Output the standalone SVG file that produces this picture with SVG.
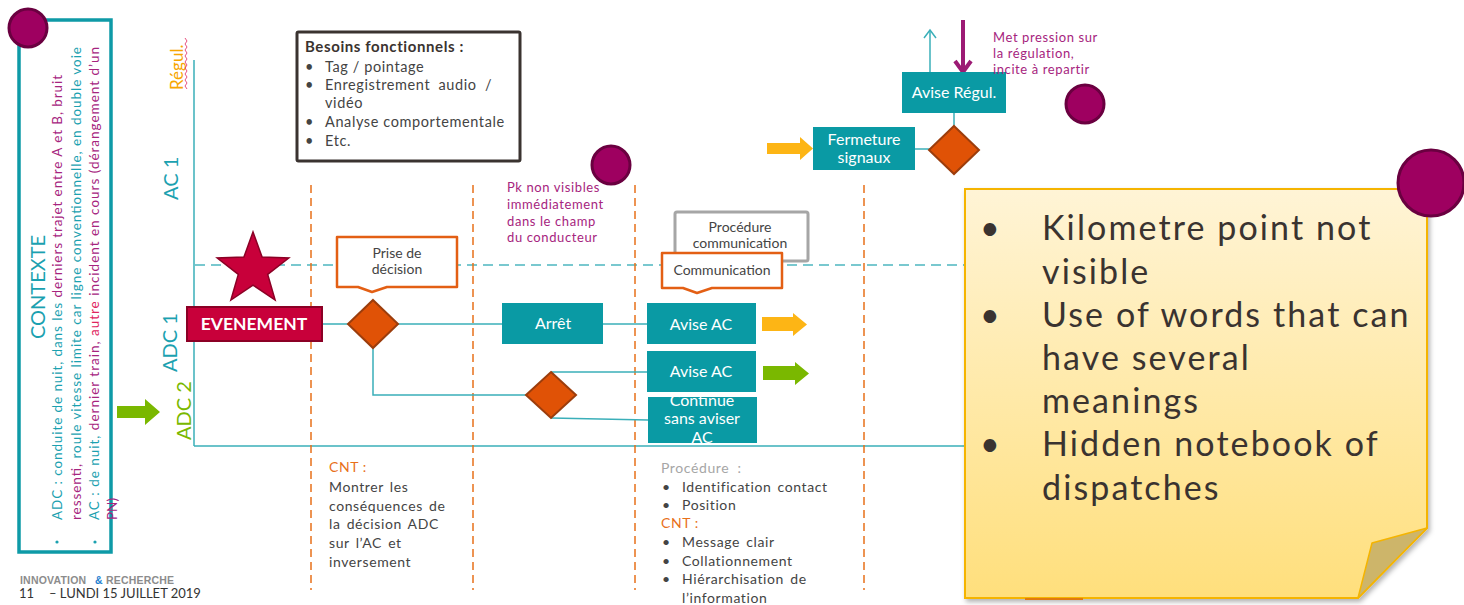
<svg xmlns="http://www.w3.org/2000/svg" width="1464" height="605" viewBox="0 0 1464 605">
<defs>
<style>
text{font-family:"Lato","Liberation Sans",sans-serif}
.tl{fill:none;stroke:#3aafb9;stroke-width:1.5}
.od{fill:none;stroke:#e8701a;stroke-width:1.5;stroke-dasharray:8 5}
.box{fill:#0a9aa4}
.wt{fill:#fff;font-size:16px;text-anchor:middle}
.dia{fill:#e05206;stroke:#9c3d0c;stroke-width:2}
.call{fill:#fff;stroke:#e35f14;stroke-width:2.5;stroke-linejoin:round}
.ct{fill:#444;font-size:14px;text-anchor:middle}
.pc{fill:#9e0060;stroke:#6a0040;stroke-width:3}
.bt{fill:#444;font-size:14px;letter-spacing:0.6px;word-spacing:2px}
.bb{fill:#444;font-size:14.5px;letter-spacing:0.6px}
.mg{fill:#a6247e}
.tq{fill:#1ba1b0}
.pk{fill:#a6247e;font-size:13px;letter-spacing:0.6px}
.sn{fill:#3a3330;font-size:34px;letter-spacing:2.1px}
</style>
<linearGradient id="noteg" x1="0" y1="0" x2="0" y2="1">
<stop offset="0" stop-color="#fff4d6"/>
<stop offset="1" stop-color="#ffdf7c"/>
</linearGradient>
<filter id="sh" x="-5%" y="-5%" width="112%" height="112%">
<feDropShadow dx="2" dy="3" stdDeviation="2.5" flood-color="#000" flood-opacity="0.3"/>
</filter>
<marker id="openHead" markerWidth="12" markerHeight="14" refX="9" refY="7" orient="auto" markerUnits="userSpaceOnUse">
<path d="M1,1 L9,7 L1,13" fill="none" stroke="#3aafb9" stroke-width="1.5"/>
</marker>
</defs>
<rect width="1464" height="605" fill="#fff"/>

<!-- Context box -->
<g id="contexte">
<rect x="19" y="20" width="92" height="532" fill="#fff" stroke="#0e9aa7" stroke-width="3.5"/>
<text transform="translate(45,287) rotate(-90)" text-anchor="middle" font-size="20" fill="#1ba1b0">CONTEXTE</text>
<circle cx="57" cy="542" r="1.6" fill="#1ba1b0"/>
<circle cx="95" cy="542" r="1.6" fill="#1ba1b0"/>
<text transform="translate(62,520) rotate(-90)" font-size="13.5" textLength="445" lengthAdjust="spacing"><tspan class="tq">ADC : conduite de nuit, dans les </tspan><tspan class="mg">derniers trajet entre A et B, bruit</tspan></text>
<text transform="translate(81,520) rotate(-90)" font-size="13.5" textLength="473" lengthAdjust="spacing"><tspan class="mg">ressenti,</tspan><tspan class="tq"> roule vitesse limite car ligne conventionnelle,  en double voie</tspan></text>
<text transform="translate(99,520) rotate(-90)" font-size="13.5" textLength="473" lengthAdjust="spacing"><tspan class="tq">AC : de nuit, </tspan><tspan class="mg">dernier train,</tspan><tspan fill="#e0245e"> autre</tspan><tspan class="mg"> incident  en cours (dérangement  d’un</tspan></text>
<text transform="translate(117,520) rotate(-90)" font-size="13.5" class="mg">PN)</text>
<circle cx="28" cy="28" r="19" class="pc"/>
</g>

<!-- Green input arrow -->
<g id="arrow-left">
<polygon points="117,406 145,406 145,399 160,412 145,425 145,418 117,418" fill="#7ab800"/>
</g>

<!-- Lane labels -->
<g id="lanes">
<text transform="translate(183,90) rotate(-90)" font-size="17" fill="#f7a600">Régul.</text>
<polyline points="185,38 187,41 185,44 187,47 185,50 187,53 185,56 187,59 185,62 187,65 185,68 187,71 185,74 187,77 185,80 187,83 185,86 187,89" fill="none" stroke="#e0245e" stroke-width="0.8"/>
<text transform="translate(178,200) rotate(-90)" font-size="20" fill="#1ba1b0">AC 1</text>
<text transform="translate(177,372) rotate(-90)" font-size="20" fill="#1ba1b0">ADC 1</text>
<text transform="translate(191,440) rotate(-90)" font-size="20" fill="#7ab800">ADC 2</text>
</g>

<!-- Axes / swimlane lines -->
<g id="grid">
<line x1="194" y1="60" x2="194" y2="446" class="tl"/>
<line x1="194" y1="446" x2="970" y2="446" class="tl"/>
<line x1="195" y1="265" x2="970" y2="265" stroke="#4db6c0" stroke-width="1.5" stroke-dasharray="10 6"/>
<line x1="311" y1="185" x2="311" y2="590" class="od"/>
<line x1="473" y1="185" x2="473" y2="590" class="od"/>
<line x1="635" y1="185" x2="635" y2="590" class="od"/>
<line x1="864" y1="185" x2="864" y2="590" class="od"/>
</g>

<!-- Besoins fonctionnels -->
<g id="besoins">
<rect x="297" y="32" width="223" height="129" fill="#fff" stroke="#3a3330" stroke-width="3" rx="1.5"/>
<text x="305" y="52" font-size="15" font-weight="bold" fill="#3a3330" letter-spacing="0.6">Besoins fonctionnels :</text>
<text x="305" y="72" class="bb">•</text><text x="325" y="72" class="bb">Tag / pointage</text>
<text x="305" y="90" class="bb">•</text><text x="325" y="90" class="bb" word-spacing="4">Enregistrement audio /</text>
<text x="325" y="108" class="bb">vidéo</text>
<text x="305" y="127" class="bb">•</text><text x="325" y="127" class="bb">Analyse comportementale</text>
<text x="305" y="146" class="bb">•</text><text x="325" y="146" class="bb">Etc.</text>
</g>

<!-- Connectors -->
<g id="connectors">
<line x1="322" y1="324" x2="348" y2="324" class="tl"/>
<line x1="398" y1="324" x2="502" y2="324" class="tl"/>
<line x1="603" y1="324" x2="647" y2="324" class="tl"/>
<polyline points="373,348 373,395 527,395" class="tl"/>
<line x1="551" y1="372" x2="647" y2="372" class="tl"/>
<line x1="551" y1="418" x2="648" y2="420" class="tl"/>
<line x1="915" y1="149" x2="930" y2="149" class="tl"/>
<line x1="954" y1="126" x2="954" y2="113" class="tl"/>
<line x1="930" y1="72" x2="930" y2="30" class="tl" marker-end="url(#openHead)"/>
<line x1="963" y1="20" x2="963" y2="70" stroke="#9c1a74" stroke-width="4"/>
<polyline points="955,61 963,72 971,61" fill="none" stroke="#9c1a74" stroke-width="4" stroke-linejoin="round"/>
</g>

<!-- Event star + box -->
<g id="evenement">
<polygon points="253,232 262.1,257.1 288.8,258 267.7,274.4 275.1,300 253,285.1 230.9,300 238.3,274.4 217.2,258 243.9,257.1" fill="#c8003a" stroke="#8b0025" stroke-width="1.5"/>
<rect x="187" y="307" width="135" height="34" fill="#c8003a" stroke="#8b0025" stroke-width="2"/>
<text x="254" y="330" font-size="17.5" font-weight="bold" fill="#fff" text-anchor="middle">EVENEMENT</text>
</g>

<g id="decision1">
<polygon points="373,300 398,324 373,348 348,324" class="dia"/>
</g>
<g id="prise-decision">
<path d="M337,237 H457 V287 H387 L372,292 L358,287 H337 Z" class="call"/>
<text x="397" y="258" class="ct">Prise de</text>
<text x="397" y="274" class="ct">décision</text>
</g>

<g id="arret">
<rect x="502" y="303" width="101" height="41" class="box"/>
<text x="553" y="329" class="wt" font-size="15">Arrêt</text>
</g>

<g id="decision2">
<polygon points="551,372 576,395 551,418 526,395" class="dia"/>
</g>

<g id="pk-note">
<text x="507" y="192" class="pk">Pk non visibles</text>
<text x="507" y="209" class="pk">immédiatement</text>
<text x="507" y="226" class="pk">dans le champ</text>
<text x="507" y="242" class="pk">du conducteur</text>
<circle cx="611" cy="165" r="19" class="pc"/>
</g>

<g id="procedure-communication">
<rect x="675" y="212" width="133" height="49" fill="#fff" stroke="#a6a6a6" stroke-width="3" rx="2"/>
<text x="740" y="232" class="ct">Procédure</text>
<text x="740" y="248" class="ct">communication</text>
</g>
<g id="communication">
<path d="M662,253 H782 V288 H712 L697,293 L683,288 H662 Z" class="call"/>
<text x="722" y="275" class="ct">Communication</text>
</g>

<g id="avise-ac-1">
<rect x="647" y="303" width="109" height="41" class="box"/>
<text x="701" y="330" class="wt">Avise AC</text>
</g>
<g id="avise-ac-2">
<rect x="647" y="351" width="109" height="41" class="box"/>
<text x="701" y="377" class="wt">Avise AC</text>
</g>
<g id="continue">
<rect x="648" y="397" width="109" height="46" class="box"/>
<text x="702" y="406" class="wt" font-size="14">Continue</text>
<text x="702" y="424" class="wt" font-size="14">sans aviser</text>
<text x="702" y="443" class="wt" font-size="14">AC</text>
</g>
<g id="arrow-orange">
<polygon points="762,317 793,317 793,313 807,324.5 793,336 793,331 762,331" fill="#fdb515"/>
</g>
<g id="arrow-green">
<polygon points="763,366 795,366 795,362 809,373.5 795,385 795,380 763,380" fill="#7ab800"/>
</g>

<!-- Régulation area -->
<g id="arrow-yellow">
<polygon points="767,143 800,143 800,137 813,148.5 800,160 800,154 767,154" fill="#fdb515"/>
</g>
<g id="fermeture">
<rect x="813" y="127" width="102" height="43" class="box"/>
<text x="864" y="145" class="wt" font-size="14.5">Fermeture</text>
<text x="864" y="163" class="wt" font-size="14.5">signaux</text>
</g>
<g id="decision3">
<polygon points="954,126 979,150 954,174 929,150" class="dia"/>
</g>
<g id="avise-regul">
<rect x="902" y="72" width="104" height="41" class="box"/>
<text x="954" y="98" class="wt">Avise Régul.</text>
</g>
<g id="pression">
<text x="993" y="42" class="pk">Met pression sur</text>
<text x="993" y="58" class="pk">la régulation,</text>
<text x="993" y="74" class="pk">incite à repartir</text>
<circle cx="1085" cy="104" r="19" class="pc"/>
</g>

<!-- Bottom notes -->
<g id="cnt-decision">
<text x="329" y="472" font-size="14" fill="#e8701a" letter-spacing="0.6">CNT :</text>
<text x="329" y="492" class="bt">Montrer les</text>
<text x="329" y="511" class="bt" word-spacing="6">conséquences de</text>
<text x="329" y="529" class="bt">la décision ADC</text>
<text x="329" y="548" class="bt">sur l’AC et</text>
<text x="329" y="567" class="bt">inversement</text>
</g>
<g id="cnt-communication">
<text x="661" y="473" font-size="14" fill="#a6a6a6" letter-spacing="0.6" word-spacing="4">Procédure :</text>
<text x="662" y="492" class="bt">•</text><text x="682" y="492" class="bt" word-spacing="5">Identification contact</text>
<text x="662" y="510" class="bt">•</text><text x="682" y="510" class="bt">Position</text>
<text x="661" y="528" font-size="14" fill="#e8701a" letter-spacing="0.6">CNT :</text>
<text x="662" y="547" class="bt">•</text><text x="682" y="547" class="bt">Message clair</text>
<text x="662" y="566" class="bt">•</text><text x="682" y="566" class="bt">Collationnement</text>
<text x="662" y="584" class="bt">•</text><text x="682" y="584" class="bt" word-spacing="5">Hiérarchisation de</text>
<text x="682" y="603" class="bt">l’information</text>
</g>

<!-- Sticky note -->
<g id="sticky-note">
<path d="M965,189 H1427 V528 L1358,598 H965 Z" fill="url(#noteg)" stroke="#f5b400" stroke-width="2" filter="url(#sh)"/>
<polygon points="1372,543 1427,528 1358,598" fill="#cdb56a" stroke="#f5b400" stroke-width="1.5" stroke-linejoin="round"/>
<line x1="1025" y1="599" x2="1083" y2="599" stroke="#e07a10" stroke-width="2"/>
<text x="980" y="240" class="sn">•</text><text x="1042" y="240" class="sn">Kilometre point not</text>
<text x="1042" y="284" class="sn">visible</text>
<text x="980" y="327" class="sn">•</text><text x="1042" y="327" class="sn">Use of words that can</text>
<text x="1042" y="370" class="sn">have several</text>
<text x="1042" y="413" class="sn">meanings</text>
<text x="980" y="456" class="sn">•</text><text x="1042" y="456" class="sn">Hidden notebook of</text>
<text x="1042" y="500" class="sn">dispatches</text>
<circle cx="1431" cy="183" r="33" class="pc" stroke-width="4"/>
</g>

<!-- Footer -->
<g id="footer">
<text x="20" y="584" font-size="10.5" font-weight="bold" fill="#8c8c8c" letter-spacing="0.2" style="font-family:'Liberation Sans',sans-serif">INNOVATION<tspan x="95" fill="#1e7fd0">&amp;</tspan> RECHERCHE</text>
<text x="19" y="598" font-size="13" fill="#333">11</text>
<text x="49" y="598" font-size="13" fill="#333">–  LUNDI 15 JUILLET 2019</text>
</g>
</svg>
